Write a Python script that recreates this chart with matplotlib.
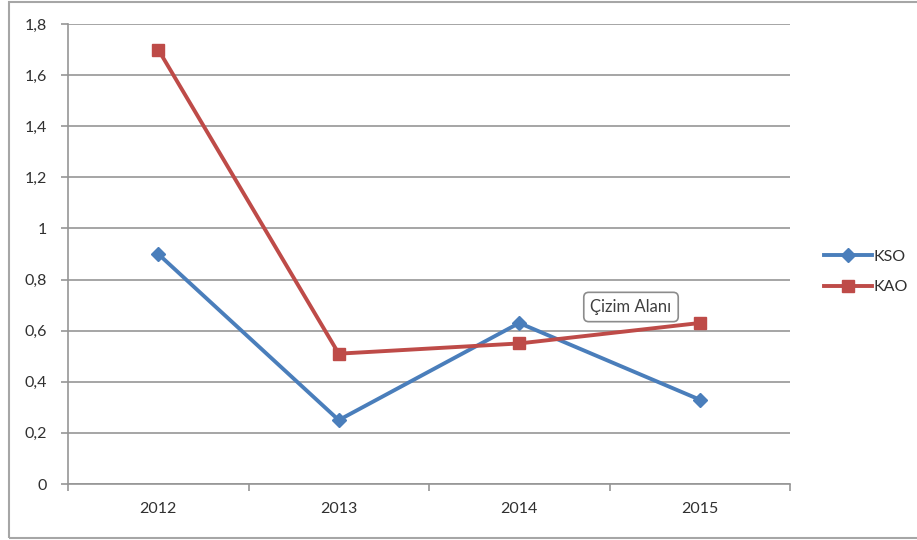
import matplotlib
matplotlib.use("Agg")
import matplotlib.pyplot as plt
from matplotlib.lines import Line2D
from matplotlib.patches import Rectangle

years = ["2012", "2013", "2014", "2015"]
kso = [0.90, 0.25, 0.63, 0.33]
kao = [1.70, 0.51, 0.55, 0.63]
y_ticks = [0, 0.2, 0.4, 0.6, 0.8, 1.0, 1.2, 1.4, 1.6, 1.8]

blue = "#4A7EBB"
red = "#BE4B48"
grid_c = "#969696"
text_c = "#303030"

plt.rcParams["font.family"] = ["Lato", "DejaVu Sans"]

fig = plt.figure(figsize=(9.17, 5.40), dpi=100)
W, H = 917, 540

# chart frame
fig.add_artist(Rectangle((9 / W, 2 / H), 1.2, (536) / H, transform=fig.transFigure,
                         fill=False, edgecolor="#A6A6A6", linewidth=1.5))

ax = fig.add_axes([68 / W, (540 - 484) / H, (790 - 68) / W, (484 - 24) / H])
x = [i + 0.5 for i in range(len(years))]

ax.plot(x, kso, color=blue, linewidth=2.8, marker="D", markersize=7.5, zorder=3)
ax.plot(x, kao, color=red, linewidth=2.8, marker="s", markersize=9, zorder=3)

ax.set_xlim(0, len(years))
ax.set_ylim(0, 1.8)
ax.set_yticks(y_ticks)
ax.set_yticklabels([f"{v:g}".replace(".", ",") for v in y_ticks], fontsize=11.5, color=text_c)
ax.set_xticks(range(len(years) + 1))
ax.set_xticklabels([])
ax.set_xticks(x, minor=True)
ax.set_xticklabels(years, minor=True, fontsize=11.5, color=text_c)
ax.tick_params(axis="x", which="minor", length=0, pad=13)
ax.tick_params(axis="x", which="major", length=5, color=grid_c, width=1.2)
ax.tick_params(axis="y", length=5, color=grid_c, width=1.2, pad=10)
ax.grid(axis="y", color=grid_c, linewidth=1.2)
ax.set_axisbelow(True)
for s in ["top", "right"]:
    ax.spines[s].set_visible(False)
ax.spines["left"].set_color(grid_c)
ax.spines["bottom"].set_color(grid_c)
ax.spines["left"].set_linewidth(1.2)
ax.spines["bottom"].set_linewidth(1.2)

handles = [Line2D([], [], color=blue, linewidth=2.8, marker="D", markersize=7.5),
           Line2D([], [], color=red, linewidth=2.8, marker="s", markersize=9)]
fig.legend(handles, ["KSO", "KAO"], loc="center left", bbox_to_anchor=(810 / W, 1 - 272 / H),
           frameon=False, fontsize=11.5, handlelength=3.0, handletextpad=0.1,
           labelspacing=1.0, labelcolor=text_c)

fig.text(631 / W, 1 - 307 / H, "Çizim Alanı", ha="center", va="center", fontsize=12,
         color="#404040",
         bbox=dict(boxstyle="round,pad=0.4,rounding_size=0.3", facecolor="white",
                   edgecolor="#8C8C8C", linewidth=1.2))

fig.savefig("out.png", dpi=100)
